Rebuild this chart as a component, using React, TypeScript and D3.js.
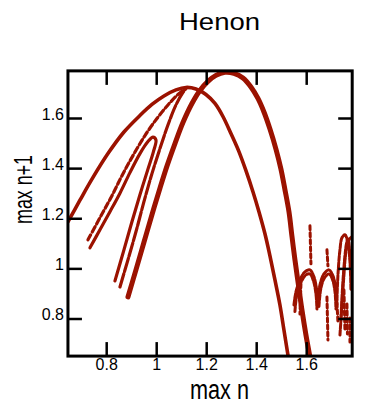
import React from "react";
import * as d3 from "d3";

type P = [number, number];

const xTicks = [0.8, 1, 1.2, 1.4, 1.6];
const yTicks = [0.8, 1, 1.2, 1.4, 1.6];
const xTickLabels = ["0.8", "1", "1.2", "1.4", "1.6"];
const yTickLabels = ["0.8", "1", "1.2", "1.4", "1.6"];

// outer arc
const branchA: P[] = [
  [0.645, 1.188], [0.693, 1.274], [0.741, 1.358], [0.805, 1.46], [0.869, 1.546],
  [0.933, 1.612], [0.981, 1.656], [1.029, 1.69], [1.077, 1.714], [1.117, 1.724],
  [1.157, 1.718], [1.197, 1.696], [1.233, 1.66], [1.265, 1.608], [1.297, 1.54],
  [1.329, 1.468], [1.357, 1.392], [1.385, 1.308], [1.409, 1.228], [1.433, 1.14],
  [1.453, 1.052], [1.473, 0.956], [1.493, 0.856], [1.509, 0.756], [1.525, 0.656],
];
// inner dashed arc
const branchD: P[] = [
  [0.725, 1.116], [0.773, 1.204], [0.821, 1.292], [0.861, 1.372], [0.905, 1.452],
  [0.953, 1.532], [1.001, 1.6], [1.045, 1.654], [1.085, 1.696], [1.117, 1.72],
];
// small cusp
const branchC: P[] = [
  [0.733, 1.084], [0.773, 1.156], [0.813, 1.228], [0.853, 1.302], [0.893, 1.384],
  [0.933, 1.46], [0.965, 1.508], [0.985, 1.526], [0.997, 1.514], [0.987, 1.468],
  [0.965, 1.398], [0.933, 1.296], [0.901, 1.188], [0.869, 1.076], [0.833, 0.952],
];
// line into the first peak
const branchE: P[] = [
  [0.853, 0.928], [0.885, 1.036], [0.917, 1.148], [0.949, 1.268], [0.981, 1.38],
  [1.013, 1.48], [1.045, 1.574], [1.077, 1.654], [1.105, 1.704], [1.117, 1.72],
];
// tall arc
const branchB: P[] = [
  [0.885, 0.888], [0.917, 0.996], [0.949, 1.106], [0.981, 1.216], [1.013, 1.322],
  [1.041, 1.41], [1.073, 1.5], [1.105, 1.584], [1.141, 1.66], [1.173, 1.712],
  [1.205, 1.748], [1.237, 1.772], [1.273, 1.784], [1.309, 1.78], [1.345, 1.762],
  [1.377, 1.726], [1.405, 1.68], [1.429, 1.626], [1.453, 1.558], [1.477, 1.478],
  [1.497, 1.398], [1.513, 1.316], [1.529, 1.228], [1.541, 1.13], [1.553, 1.036],
  [1.567, 0.936], [1.581, 0.836], [1.597, 0.736], [1.613, 0.648],
];
// scattered region
const waves: P[][] = [
  [
    [1.549, 0.856], [1.557, 0.908], [1.573, 0.956], [1.593, 0.988], [1.613, 0.996],
    [1.629, 0.968], [1.641, 0.908], [1.645, 0.856],
  ],
  [
    [1.553, 0.83], [1.561, 0.9], [1.577, 0.946], [1.597, 0.976], [1.613, 0.98],
    [1.627, 0.952], [1.637, 0.9], [1.641, 0.84],
  ],
  [
    [1.645, 0.876], [1.653, 0.936], [1.669, 0.98], [1.689, 0.996], [1.705, 0.972],
    [1.717, 0.916], [1.721, 0.856],
  ],
  [
    [1.649, 0.85], [1.657, 0.924], [1.671, 0.964], [1.689, 0.98], [1.703, 0.958],
    [1.713, 0.91], [1.717, 0.84],
  ],
  [
    [1.721, 0.876], [1.725, 0.976], [1.733, 1.076], [1.741, 1.124], [1.753, 1.136],
    [1.765, 1.104], [1.773, 1.028], [1.777, 0.916],
  ],
  [
    [1.733, 0.736], [1.741, 0.856], [1.749, 0.976], [1.757, 1.068], [1.769, 1.116],
    [1.781, 1.128],
  ],
  [
    [1.737, 0.8], [1.743, 0.92], [1.751, 1.03], [1.759, 1.1], [1.765, 1.12],
    [1.771, 1.08], [1.777, 1.0],
  ],
];
const streaks: P[][] = [
  [[1.613, 1.172], [1.617, 1.02]],
  [[1.681, 1.076], [1.685, 1.012]],
  [[1.681, 0.888], [1.685, 0.716]],
  [[1.721, 0.864], [1.725, 0.788]],
  [[1.773, 0.804], [1.773, 0.708]],
  [[1.749, 0.916], [1.753, 0.756]],
  [[1.761, 0.86], [1.763, 0.74]],
  [[1.577, 0.94], [1.573, 0.82]],
];

const COLOR = "#9b1200";
const FONT = "Liberation Sans, Arial, sans-serif";

export default function App() {
  const x = d3.scaleLinear().domain([0.8, 1.6]).range([106.7, 306.7]);
  const y = d3.scaleLinear().domain([0.8, 1.6]).range([319, 118.5]);
  const x0 = x(0.645), x1 = x(1.782);
  const y0 = y(0.652), y1 = y(1.79);
  const line = d3
    .line<P>()
    .x((d) => x(d[0]))
    .y((d) => y(d[1]))
    .curve(d3.curveCatmullRom.alpha(0.5));
  const seg = d3.line<P>().x((d) => x(d[0])).y((d) => y(d[1]));

  const tick = 14;
  return (
    <svg
      width={378}
      height={413}
      style={{ position: "absolute", left: 0, top: 0, background: "#fff" }}
    >
      <defs>
        <clipPath id="plot">
          <rect x={x0} y={y1} width={x1 - x0} height={y0 - y1} />
        </clipPath>
      </defs>
      <text
        x={179}
        y={30}
        fontFamily={FONT}
        fontSize={24}
        textLength={81}
        lengthAdjust="spacingAndGlyphs"
      >
        Henon
      </text>
      <g clipPath="url(#plot)" fill="none" stroke={COLOR} strokeLinecap="round" strokeLinejoin="round">
        <path d={line(branchA) || ""} strokeWidth={3.6} />
        <path d={line(branchD) || ""} strokeWidth={3.2} strokeDasharray="6 3" />
        <path d={line(branchC) || ""} strokeWidth={3.2} />
        <path d={line(branchE) || ""} strokeWidth={3.2} strokeDasharray="14 2" />
        <path d={line(branchB) || ""} strokeWidth={5} />
        {waves.map((w, i) => (
          <path key={"w" + i} d={line(w) || ""} strokeWidth={3} strokeDasharray="5 1.5" />
        ))}
        {streaks.map((s, i) => (
          <path key={i} d={seg(s) || ""} strokeWidth={3} strokeDasharray="4 3" />
        ))}
      </g>
      <g stroke="#000" strokeWidth={2.5}>
        {xTicks.map((t) => (
          <g key={"x" + t}>
            <line x1={x(t)} x2={x(t)} y1={y0} y2={y0 - tick} />
            <line x1={x(t)} x2={x(t)} y1={y1} y2={y1 + tick} />
          </g>
        ))}
        {yTicks.map((t) => (
          <g key={"y" + t}>
            <line x1={x0} x2={x0 + tick} y1={y(t)} y2={y(t)} />
            <line x1={x1} x2={x1 - tick} y1={y(t)} y2={y(t)} />
          </g>
        ))}
      </g>
      <rect
        x={x0}
        y={y1}
        width={x1 - x0}
        height={y0 - y1}
        fill="none"
        stroke="#000"
        strokeWidth={3}
      />
      <g fontFamily={FONT} fontSize={16} fill="#000">
        {xTicks.map((t, i) => (
          <text key={"xl" + t} x={x(t)} y={370} textAnchor="middle">
            {xTickLabels[i]}
          </text>
        ))}
        {yTicks.map((t, i) => (
          <text key={"yl" + t} x={64} y={y(t) + 1} textAnchor="end">
            {yTickLabels[i]}
          </text>
        ))}
      </g>
      <text
        x={190}
        y={399}
        fontFamily={FONT}
        fontSize={27}
        textLength={59}
        lengthAdjust="spacingAndGlyphs"
      >
        max n
      </text>
      <text
        transform="translate(32,224) rotate(-90)"
        fontFamily={FONT}
        fontSize={26}
        textLength={69}
        lengthAdjust="spacingAndGlyphs"
      >
        max n+1
      </text>
    </svg>
  );
}
